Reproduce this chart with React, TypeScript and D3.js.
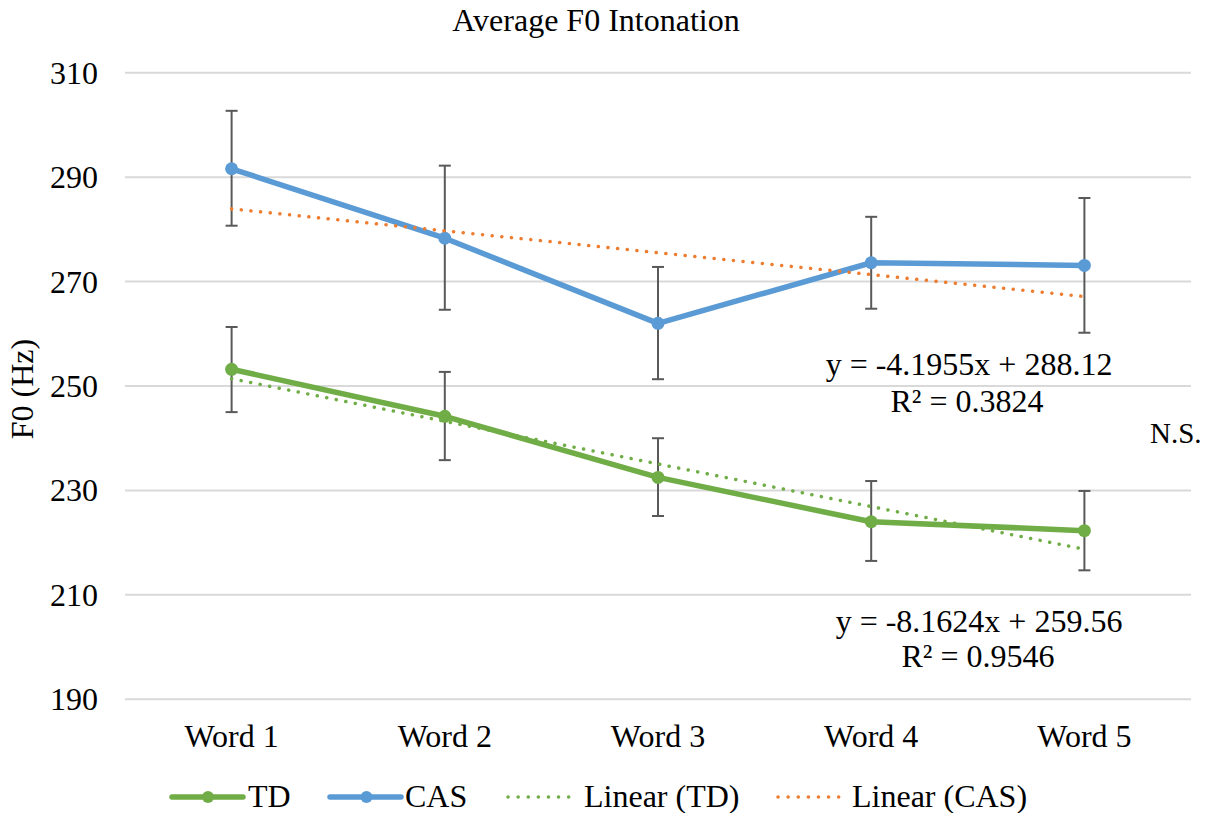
import React from 'react'
import * as d3 from 'd3'

// chart data
const categories = ['Word 1', 'Word 2', 'Word 3', 'Word 4', 'Word 5']
const tdValues = [253.2, 244.2, 232.5, 224.0, 222.3]
const tdErrLow = [245.0, 235.8, 225.1, 216.5, 214.7]
const tdErrHigh = [261.3, 252.7, 240.0, 231.8, 229.9]
const casValues = [291.6, 278.3, 262.0, 273.6, 273.1]
const casErrLow = [280.7, 264.6, 251.3, 264.8, 260.2]
const casErrHigh = [302.7, 292.2, 272.8, 282.4, 286.0]
// trend lines: value at first and last category
const tdTrend = [251.40, 218.74]
const casTrend = [283.92, 267.14]
const yTicks = [190, 210, 230, 250, 270, 290, 310]

const GREEN = '#70AD47'
const BLUE = '#5B9BD5'
const ORANGE = '#ED7D31'
const ERR = '#595959'
const serif = { fontFamily: "'Liberation Serif', Tinos, 'Times New Roman', 'Nimbus Roman', 'DejaVu Serif', serif" }

export default function App() {
  const width = 1213
  const height = 813
  const left = 125
  const right = 1191
  const top = 72.7
  const bottom = 699.3

  const x = d3.scaleBand<string>().domain(categories).range([left, right]).padding(0)
  const cx = (c: string) => (x(c) ?? 0) + x.bandwidth() / 2
  const y = d3.scaleLinear().domain([190, 310]).range([bottom, top])

  const line = d3.line<number>()
    .x((_, i) => cx(categories[i]))
    .y(d => y(d))

  const trendPath = (vals: number[]) =>
    d3.line<number>()
      .x((_, i) => cx(categories[i === 0 ? 0 : categories.length - 1]))
      .y(d => y(d))(vals) ?? ''

  const series = [
    { values: tdValues, lo: tdErrLow, hi: tdErrHigh, color: GREEN },
    { values: casValues, lo: casErrLow, hi: casErrHigh, color: BLUE },
  ]

  const dotted = { strokeWidth: 3.5, strokeLinecap: 'round' as const, strokeDasharray: '0.1 9.6', fill: 'none' }

  return (
    <svg width={width} height={height} style={{ position: 'absolute', left: 0, top: 0, background: '#fff' }}>
      <g style={serif} fill="#000" fontSize={32}>
        <text x={596} y={31} textAnchor="middle">Average F0 Intonation</text>

        {/* y tick labels */}
        {yTicks.map(t => (
          <text key={t} x={98} y={y(t) + 11} textAnchor="end">{t}</text>
        ))}

        {/* x labels */}
        {categories.map(c => (
          <text key={c} x={cx(c)} y={747} textAnchor="middle">{c}</text>
        ))}

        <text transform={`translate(33, ${(top + bottom) / 2 + 3}) rotate(-90)`} textAnchor="middle">F0 (Hz)</text>
      </g>

      {/* grid */}
      {yTicks.map(t => (
        <line key={t} x1={left} x2={right} y1={y(t)} y2={y(t)} stroke="#D9D9D9" strokeWidth={2} />
      ))}

      {/* error bars */}
      {series.map((s, si) => (
        <g key={'e' + si} stroke={ERR} strokeWidth={2}>
          {categories.map((c, i) => (
            <g key={c}>
              <line x1={cx(c)} x2={cx(c)} y1={y(s.lo[i])} y2={y(s.hi[i])} />
              <line x1={cx(c) - 6} x2={cx(c) + 6} y1={y(s.lo[i])} y2={y(s.lo[i])} />
              <line x1={cx(c) - 6} x2={cx(c) + 6} y1={y(s.hi[i])} y2={y(s.hi[i])} />
            </g>
          ))}
        </g>
      ))}

      {/* series lines + markers */}
      {series.map((s, si) => (
        <g key={'s' + si}>
          <path d={line(s.values) ?? ''} fill="none" stroke={s.color} strokeWidth={5.5} strokeLinejoin="round" />
          {s.values.map((v, i) => (
            <circle key={i} cx={cx(categories[i])} cy={y(v)} r={6.5} fill={s.color} />
          ))}
        </g>
      ))}

      {/* trend lines */}
      <path d={trendPath(tdTrend)} stroke={GREEN} {...dotted} />
      <path d={trendPath(casTrend)} stroke={ORANGE} {...dotted} />

      {/* trend labels */}
      <g style={serif} fill="#000" fontSize={32}>
        <text x={969} y={375} textAnchor="middle">y = -4.1955x + 288.12</text>
        <text x={967} y={411.5} textAnchor="middle">R² = 0.3824</text>
        <text x={979} y={631.5} textAnchor="middle">y = -8.1624x + 259.56</text>
        <text x={978} y={666.5} textAnchor="middle">R² = 0.9546</text>
        <text x={1150} y={443} fontSize={29}>N.S.</text>
      </g>

      {/* legend */}
      <g style={serif} fill="#000" fontSize={32}>
        <line x1={172} x2={243} y1={797} y2={797} stroke={GREEN} strokeWidth={5.5} strokeLinecap="round" />
        <circle cx={208} cy={797} r={6} fill={GREEN} />
        <text x={248} y={807}>TD</text>

        <line x1={330} x2={401} y1={797} y2={797} stroke={BLUE} strokeWidth={5.5} strokeLinecap="round" />
        <circle cx={366.5} cy={797} r={6} fill={BLUE} />
        <text x={405} y={807}>CAS</text>

        <line x1={508} x2={570} y1={797} y2={797} stroke={GREEN} {...dotted} strokeDasharray="0.1 10" />
        <text x={584} y={807}>Linear (TD)</text>

        <line x1={778} x2={848} y1={797} y2={797} stroke={ORANGE} {...dotted} strokeDasharray="0.1 10" />
        <text x={852} y={807}>Linear (CAS)</text>
      </g>
    </svg>
  )
}
